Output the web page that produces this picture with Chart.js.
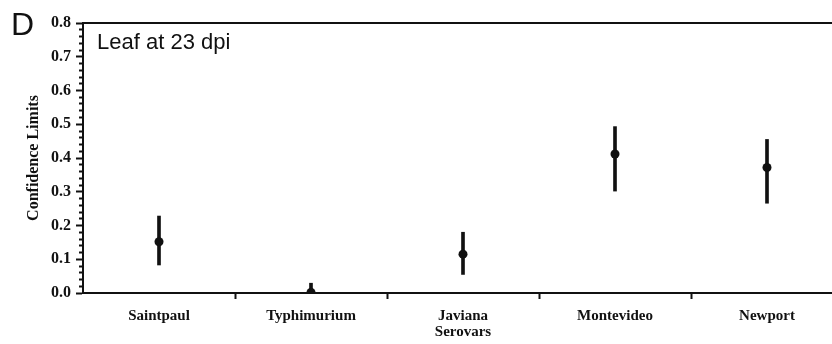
<!DOCTYPE html>
<html>
<head>
<meta charset="utf-8">
<style>
  html, body { margin: 0; padding: 0; background: #fff; overflow: hidden; }
  #wrap { width: 832px; height: 344px; overflow: hidden; }
</style>
<script src="https://cdn.jsdelivr.net/npm/chart.js@4/dist/chart.umd.min.js"></script>
</head>
<body>
<div id="wrap"><canvas id="ciChart" width="850" height="344"></canvas></div>
<script>
// serovars on the x axis
const serovars = ["Saintpaul", "Typhimurium", ["Javiana", "Serovars"], "Montevideo", "Newport"];
// point estimate and confidence limits
const estimates = [0.152, 0.002, 0.115, 0.412, 0.372];
const lowerCL = [0.083, 0.0, 0.055, 0.302, 0.266];
const upperCL = [0.228, 0.029, 0.180, 0.493, 0.455];
// y range and tick steps
const yMin = 0.0;
const yMax = 0.8;
const minorStep = 0.02;

const ink = "#111";
const serif = "'Liberation Serif', 'Times New Roman', serif";

function isMajor(v) {
  return Math.abs(v * 10 - Math.round(v * 10)) < 1e-6;
}

// panel letter + inset label
const panelText = {
  id: "panelText",
  afterDraw(chart) {
    const c = chart.ctx;
    c.save();
    c.fillStyle = ink;
    c.textBaseline = "alphabetic";
    c.textAlign = "left";
    c.font = "32px 'Liberation Sans', Arial, sans-serif";
    c.fillText("D", 11, 35);
    c.font = "22px 'Liberation Sans', Arial, sans-serif";
    c.fillText("Leaf at 23 dpi", 97, 49);
    c.restore();
  },
};

const ctx = document.getElementById("ciChart").getContext("2d");
new Chart(ctx, {
  type: "bar",
  data: {
    labels: serovars,
    datasets: [
      {
        // error bars as thin floating bars
        label: "CL",
        data: lowerCL.map((lo, i) => [lo, upperCL[i]]),
        backgroundColor: ink,
        borderWidth: 0,
        barThickness: 3,
        order: 2,
      },
      {
        type: "line",
        label: "Estimate",
        data: estimates,
        showLine: false,
        pointRadius: 4.5,
        pointHoverRadius: 4.5,
        pointBackgroundColor: ink,
        pointBorderWidth: 0,
        order: 1,
      },
    ],
  },
  options: {
    responsive: false,
    animation: false,
    layout: { padding: { top: 23, left: 0, right: 7, bottom: 0 } },
    plugins: {
      legend: { display: false },
      tooltip: { enabled: false },
    },
    scales: {
      x: {
        position: "bottom",
        grid: {
          drawOnChartArea: false,
          tickLength: 6,
          tickWidth: 2,
          tickColor: (c) => (c.index === 0 ? "rgba(0,0,0,0)" : ink),
        },
        border: { display: true, color: ink, width: 2 },
        ticks: {
          color: ink,
          padding: 9,
          font: { family: serif, size: 15, weight: "bold", lineHeight: 1.07 },
          maxRotation: 0,
          autoSkip: false,
        },
        afterFit: (s) => { s.height = 51; },
      },
      xTop: {
        type: "category",
        position: "top",
        grid: { display: false },
        ticks: { display: false },
        border: { display: true, color: ink, width: 2 },
        afterFit: (s) => { s.height = 0; },
      },
      y: {
        min: yMin,
        max: yMax,
        grid: {
          drawOnChartArea: false,
          tickLength: 7,
          tickColor: ink,
          tickWidth: 2,
          // minor ticks: skip the outer 3px so only the part next to the axis shows
          tickBorderDash: (c) => (c.tick && isMajor(c.tick.value) ? [] : [0, 3, 5, 30]),
        },
        border: { display: true, color: ink, width: 2 },
        ticks: {
          stepSize: minorStep,
          autoSkip: false,
          color: ink,
          padding: 5,
          font: { family: serif, size: 16, weight: "bold" },
          callback: (v) => (isMajor(v) ? v.toFixed(1) : ""),
        },
        title: {
          display: true,
          text: "Confidence Limits",
          color: ink,
          font: { family: serif, size: 16, weight: "bold" },
          padding: { top: 24, bottom: 0 },
        },
        afterFit: (s) => { s.width = 83; },
      },
    },
  },
  plugins: [panelText],
});
</script>
</body>
</html>
